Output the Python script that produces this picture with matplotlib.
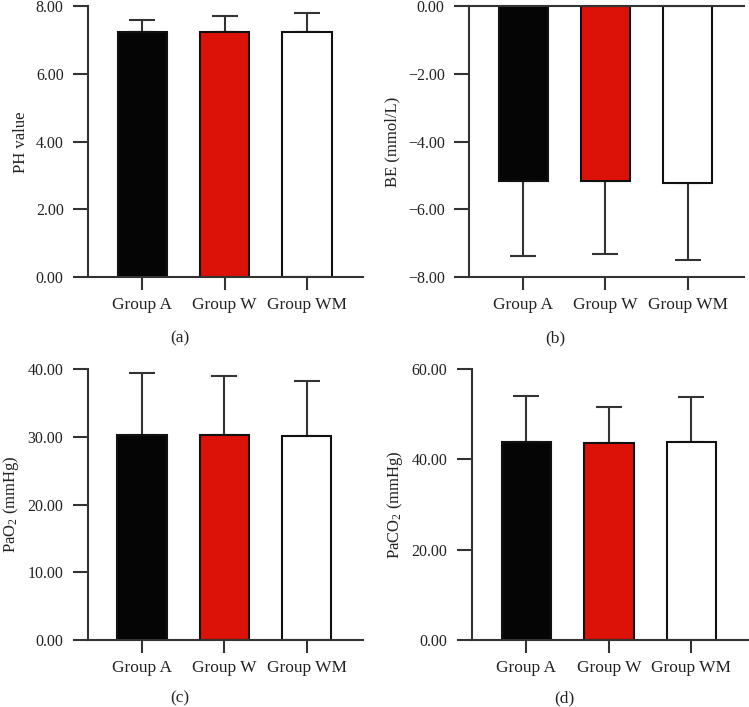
import numpy as np
import matplotlib
matplotlib.use("Agg")
import matplotlib.pyplot as plt

plt.rcParams['font.family'] = ['Liberation Serif', 'DejaVu Serif']
plt.rcParams['mathtext.fontset'] = 'custom'
plt.rcParams['mathtext.rm'] = 'Liberation Serif'
plt.rcParams['mathtext.it'] = 'Liberation Serif:italic'

groups = ['Group A', 'Group W', 'Group WM']
colors = ['#050505', '#dc1208', '#ffffff']

ph_mean = [7.24, 7.24, 7.24]
ph_err = [0.37, 0.47, 0.55]

be_mean = [-5.17, -5.16, -5.23]
be_err = [2.20, 2.17, 2.25]

pao2_mean = [30.3, 30.3, 30.1]
pao2_err = [9.05, 8.7, 8.1]

paco2_mean = [43.8, 43.6, 43.8]
paco2_err = [10.1, 7.9, 10.0]

panels = [
    # mean, err, ylim, ticks, ylabel, panel label, axes rect, label pos
    (ph_mean, ph_err, (0, 8), np.arange(0, 8.01, 2), 'PH value', '(a)',
     [0.1175, 0.608, 0.367, 0.383], (0.240, 0.522)),
    (be_mean, be_err, (-8, 0), np.arange(-8, 0.01, 2), 'BE (mmol/L)', '(b)',
     [0.626, 0.608, 0.367, 0.383], (0.741, 0.522)),
    (pao2_mean, pao2_err, (0, 40), np.arange(0, 40.1, 10), 'PaO$_2$ (mmHg)', '(c)',
     [0.117, 0.0943, 0.367, 0.384], (0.240, 0.0127)),
    (paco2_mean, paco2_err, (0, 60), np.arange(0, 60.1, 20), 'PaCO$_2$ (mmHg)', '(d)',
     [0.630, 0.0943, 0.368, 0.384], (0.754, 0.0127)),
]

fig = plt.figure(figsize=(7.49, 7.07), dpi=100)
x = np.arange(len(groups))
axis_col = '#333333'

for mean, err, ylim, ticks, ylabel, tag, rect, tpos in panels:
    ax = fig.add_axes(rect)
    ax.bar(x, mean, width=0.6, color=colors, edgecolor='#111111', linewidth=1.5, zorder=2)
    zeros = np.zeros(len(mean))
    if mean[0] < 0:
        yerr = [err, zeros]
    else:
        yerr = [zeros, err]
    ax.errorbar(x, mean, yerr=yerr, fmt='none', ecolor=axis_col, elinewidth=1.5,
                capsize=9.5, capthick=1.5, zorder=1)
    ax.set_xlim(-0.66, 2.68)
    ax.set_ylim(*ylim)
    ax.set_yticks(ticks)
    ax.set_yticklabels([f'{t:.2f}'.replace('-', '\u2212') for t in ticks])
    ax.set_xticks(x)
    ax.set_xticklabels(groups)
    ax.set_ylabel(ylabel, fontsize=12, color='#222222', labelpad=5)
    ax.spines['right'].set_visible(False)
    if mean[0] >= 0:
        ax.spines['top'].set_visible(False)
    for s in ax.spines.values():
        s.set_linewidth(1.5)
        s.set_color(axis_col)
    ax.tick_params(axis='y', length=11, width=1.5, color=axis_col, labelsize=11.5,
                   labelcolor='#222222', pad=6.5)
    ax.tick_params(axis='x', length=9.5, width=1.5, color=axis_col, labelsize=12.5,
                   labelcolor='#222222', pad=5)
    fig.text(tpos[0], tpos[1], tag, fontsize=12.5, color='#222222',
             ha='center', va='center')

fig.savefig('out.png', dpi=100)
